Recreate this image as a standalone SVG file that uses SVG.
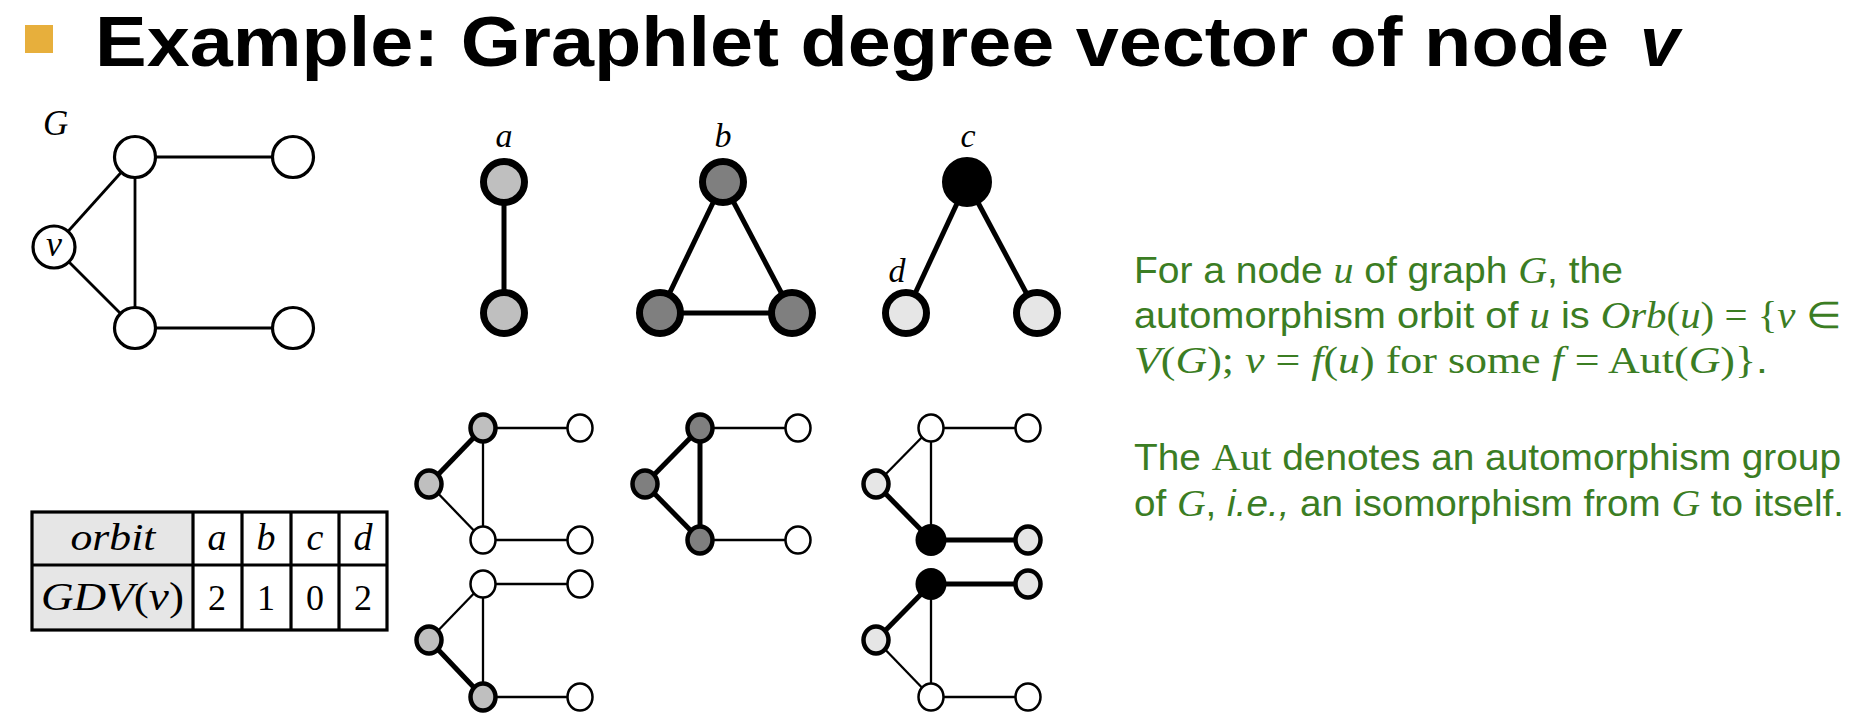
<svg xmlns="http://www.w3.org/2000/svg" width="1860" height="722" viewBox="0 0 1860 722">
<style>
.title{font-family:"Liberation Sans",Arial,sans-serif;font-weight:700;font-size:71px;fill:#000}
.math{font-family:"Liberation Serif",serif;font-style:italic;fill:#000}
.rom{font-family:"Liberation Serif",serif;font-style:normal;fill:#000}
.gtxt{font-family:"Liberation Sans",Arial,sans-serif;font-size:36px;fill:#3b7d23}
.gm{font-family:"Liberation Serif",serif;font-style:italic;font-size:37px}
.gr{font-family:"Liberation Serif",serif;font-style:normal;font-size:37px}
.gn{fill:#fff;stroke:#000;stroke-width:3.2}
.tn{stroke:#000;stroke-width:7}
.ge{stroke:#000;stroke-width:2.8;fill:none}
.te{stroke:#000;stroke-width:5;fill:none}
.thin{stroke:#000;stroke-width:2.3;fill:none}
.thick{stroke:#000;stroke-width:5;fill:none}
.wn{fill:#fff;stroke:#000;stroke-width:2.5}
.rn{stroke:#000;stroke-width:4.5}
.la{fill:#bfbfbf}.dk{fill:#7f7f7f}.lt{fill:#e6e6e6}.bk{fill:#000}
.tab{fill:none;stroke:#000;stroke-width:3.2}
</style>
<defs>
<ellipse id="wnode" rx="12.5" ry="13.5" class="wn"/>
</defs>
<rect x="25" y="25" width="28" height="28" fill="#e7af3c"/>
<text class="title" x="95" y="66" textLength="1514" lengthAdjust="spacingAndGlyphs">Example: Graphlet degree vector of node</text>
<text class="title" x="1640" y="66" font-style="italic">v</text>

<g id="connectors">
<g id="edges-G">
<line class="ge" x1="135" y1="157" x2="293" y2="157"/>
<line class="ge" x1="135" y1="157" x2="54" y2="247"/>
<line class="ge" x1="135" y1="157" x2="135" y2="328"/>
<line class="ge" x1="54" y1="247" x2="135" y2="328"/>
<line class="ge" x1="135" y1="328" x2="293" y2="328"/>
</g>
<g id="edges-top">
<line class="te" x1="504" y1="182" x2="504" y2="313"/>
<line class="te" x1="723" y1="182" x2="660" y2="313"/>
<line class="te" x1="723" y1="182" x2="792" y2="313"/>
<line class="te" x1="660" y1="313" x2="792" y2="313"/>
<line class="te" x1="967" y1="182" x2="906" y2="313"/>
<line class="te" x1="967" y1="182" x2="1037" y2="313"/>
</g>
<g id="edges-A1">
<line class="thick" x1="429" y1="484" x2="483" y2="428"/>
<line class="thin" x1="429" y1="484" x2="483" y2="540"/>
<line class="thin" x1="483" y1="428" x2="483" y2="540"/>
<line class="thin" x1="483" y1="428" x2="580" y2="428"/>
<line class="thin" x1="483" y1="540" x2="580" y2="540"/>
</g>
<g id="edges-A2">
<line class="thin" x1="429" y1="640" x2="483" y2="584"/>
<line class="thick" x1="429" y1="640" x2="483" y2="697"/>
<line class="thin" x1="483" y1="584" x2="483" y2="697"/>
<line class="thin" x1="483" y1="584" x2="580" y2="584"/>
<line class="thin" x1="483" y1="697" x2="580" y2="697"/>
</g>
<g id="edges-B">
<line class="thick" x1="645" y1="484" x2="700" y2="428"/>
<line class="thick" x1="645" y1="484" x2="700" y2="540"/>
<line class="thick" x1="700" y1="428" x2="700" y2="540"/>
<line class="thin" x1="700" y1="428" x2="798" y2="428"/>
<line class="thin" x1="700" y1="540" x2="798" y2="540"/>
</g>
<g id="edges-C1">
<line class="thin" x1="876" y1="484" x2="931" y2="428"/>
<line class="thick" x1="876" y1="484" x2="931" y2="540"/>
<line class="thin" x1="931" y1="428" x2="931" y2="540"/>
<line class="thin" x1="931" y1="428" x2="1028" y2="428"/>
<line class="thick" x1="931" y1="540" x2="1028" y2="540"/>
</g>
<g id="edges-C2">
<line class="thick" x1="876" y1="640" x2="931" y2="584"/>
<line class="thin" x1="876" y1="640" x2="931" y2="697"/>
<line class="thin" x1="931" y1="584" x2="931" y2="697"/>
<line class="thick" x1="931" y1="584" x2="1028" y2="584"/>
<line class="thin" x1="931" y1="697" x2="1028" y2="697"/>
</g>
</g>

<text class="math" x="43" y="135" font-size="35">G</text>
<g id="G-top"><circle class="gn" cx="135" cy="157" r="20.5"/></g>
<g id="G-topright"><circle class="gn" cx="293" cy="157" r="20.5"/></g>
<g id="G-v"><circle class="gn" cx="54" cy="247" r="21"/><text class="math" x="54" y="256" font-size="36" text-anchor="middle">v</text></g>
<g id="G-bottom"><circle class="gn" cx="135" cy="328" r="20.5"/></g>
<g id="G-bottomright"><circle class="gn" cx="293" cy="328" r="20.5"/></g>

<text class="math" x="504" y="147" font-size="34" text-anchor="middle">a</text>
<text class="math" x="723" y="147" font-size="34" text-anchor="middle">b</text>
<text class="math" x="968" y="147" font-size="34" text-anchor="middle">c</text>
<text class="math" x="897" y="282" font-size="34" text-anchor="middle">d</text>
<g id="a-top"><circle class="tn la" cx="504" cy="182" r="20.5"/></g>
<g id="a-bottom"><circle class="tn la" cx="504" cy="313" r="20.5"/></g>
<g id="b-top"><circle class="tn dk" cx="723" cy="182" r="20.5"/></g>
<g id="b-left"><circle class="tn dk" cx="660" cy="313" r="20.5"/></g>
<g id="b-right"><circle class="tn dk" cx="792" cy="313" r="20.5"/></g>
<g id="c-top"><circle class="tn bk" cx="967" cy="182" r="21.5"/></g>
<g id="d-left"><circle class="tn lt" cx="906" cy="313" r="20.5"/></g>
<g id="d-right"><circle class="tn lt" cx="1037" cy="313" r="20.5"/></g>

<g id="A1-top"><ellipse class="rn la" cx="483" cy="428" rx="12.5" ry="13.5"/></g>
<g id="A1-v"><ellipse class="rn la" cx="429" cy="484" rx="12.5" ry="13.5"/></g>
<g id="A1-bottom"><use href="#wnode" x="483" y="540"/></g>
<g id="A1-rt"><use href="#wnode" x="580" y="428"/></g>
<g id="A1-rb"><use href="#wnode" x="580" y="540"/></g>

<g id="A2-top"><use href="#wnode" x="483" y="584"/></g>
<g id="A2-v"><ellipse class="rn la" cx="429" cy="640" rx="12.5" ry="13.5"/></g>
<g id="A2-bottom"><ellipse class="rn la" cx="483" cy="697" rx="12.5" ry="13.5"/></g>
<g id="A2-rt"><use href="#wnode" x="580" y="584"/></g>
<g id="A2-rb"><use href="#wnode" x="580" y="697"/></g>

<g id="B-top"><ellipse class="rn dk" cx="700" cy="428" rx="12.5" ry="13.5"/></g>
<g id="B-v"><ellipse class="rn dk" cx="645" cy="484" rx="12.5" ry="13.5"/></g>
<g id="B-bottom"><ellipse class="rn dk" cx="700" cy="540" rx="12.5" ry="13.5"/></g>
<g id="B-rt"><use href="#wnode" x="798" y="428"/></g>
<g id="B-rb"><use href="#wnode" x="798" y="540"/></g>

<g id="C1-top"><use href="#wnode" x="931" y="428"/></g>
<g id="C1-v"><ellipse class="rn lt" cx="876" cy="484" rx="12.5" ry="13.5"/></g>
<g id="C1-bottom"><ellipse class="bk" cx="931" cy="540" rx="15.5" ry="16"/></g>
<g id="C1-rt"><use href="#wnode" x="1028" y="428"/></g>
<g id="C1-rb"><ellipse class="rn lt" cx="1028" cy="540" rx="12.5" ry="13.5"/></g>

<g id="C2-top"><ellipse class="bk" cx="931" cy="584" rx="15.5" ry="16"/></g>
<g id="C2-v"><ellipse class="rn lt" cx="876" cy="640" rx="12.5" ry="13.5"/></g>
<g id="C2-bottom"><use href="#wnode" x="931" y="697"/></g>
<g id="C2-rt"><ellipse class="rn lt" cx="1028" cy="584" rx="12.5" ry="13.5"/></g>
<g id="C2-rb"><use href="#wnode" x="1028" y="697"/></g>

<g id="table">
<rect x="32" y="512" width="161" height="118" fill="#e6e6e6"/>
<rect class="tab" x="32" y="512" width="355" height="118"/>
<line class="tab" x1="32" y1="565" x2="387" y2="565"/>
<line class="tab" x1="193" y1="512" x2="193" y2="630"/>
<line class="tab" x1="242" y1="512" x2="242" y2="630"/>
<line class="tab" x1="291" y1="512" x2="291" y2="630"/>
<line class="tab" x1="339" y1="512" x2="339" y2="630"/>
<text class="math" x="113" y="550" font-size="38" text-anchor="middle" textLength="85" lengthAdjust="spacingAndGlyphs">orbit</text>
<text class="math" x="217" y="550" font-size="38" text-anchor="middle">a</text>
<text class="math" x="266" y="550" font-size="38" text-anchor="middle">b</text>
<text class="math" x="315" y="550" font-size="38" text-anchor="middle">c</text>
<text class="math" x="363" y="550" font-size="38" text-anchor="middle">d</text>
<text class="math" x="41" y="610" font-size="40" textLength="143" lengthAdjust="spacingAndGlyphs">GDV<tspan font-style="normal">(</tspan>v<tspan font-style="normal">)</tspan></text>
<text class="rom" x="217" y="610" font-size="36" text-anchor="middle">2</text>
<text class="rom" x="266" y="610" font-size="36" text-anchor="middle">1</text>
<text class="rom" x="315" y="610" font-size="36" text-anchor="middle">0</text>
<text class="rom" x="363" y="610" font-size="36" text-anchor="middle">2</text>
</g>

<g id="definition">
<text class="gtxt" x="1134" y="283" textLength="489" lengthAdjust="spacingAndGlyphs">For a node <tspan class="gm">u</tspan> of graph <tspan class="gm">G</tspan>, the</text>
<text class="gtxt" x="1134" y="328" textLength="707" lengthAdjust="spacingAndGlyphs">automorphism orbit of <tspan class="gm">u</tspan> is <tspan class="gm">Orb</tspan><tspan class="gr">(</tspan><tspan class="gm">u</tspan><tspan class="gr">) = {</tspan><tspan class="gm">v</tspan><tspan class="gr"> ∈</tspan></text>
<text class="gtxt" x="1134" y="373" textLength="634" lengthAdjust="spacingAndGlyphs"><tspan class="gm">V</tspan><tspan class="gr">(</tspan><tspan class="gm">G</tspan><tspan class="gr">); </tspan><tspan class="gm">v</tspan><tspan class="gr"> = </tspan><tspan class="gm">f</tspan><tspan class="gr">(</tspan><tspan class="gm">u</tspan><tspan class="gr">) for some </tspan><tspan class="gm">f</tspan><tspan class="gr"> = Aut(</tspan><tspan class="gm">G</tspan><tspan class="gr">)}</tspan>.</text>
<text class="gtxt" x="1134" y="470" textLength="707" lengthAdjust="spacingAndGlyphs">The <tspan class="gr">Aut</tspan> denotes an automorphism group</text>
<text class="gtxt" x="1134" y="516" textLength="710" lengthAdjust="spacingAndGlyphs">of <tspan class="gm">G</tspan>, <tspan font-style="italic">i.e.,</tspan> an isomorphism from <tspan class="gm">G</tspan> to itself.</text>
</g>
</svg>
